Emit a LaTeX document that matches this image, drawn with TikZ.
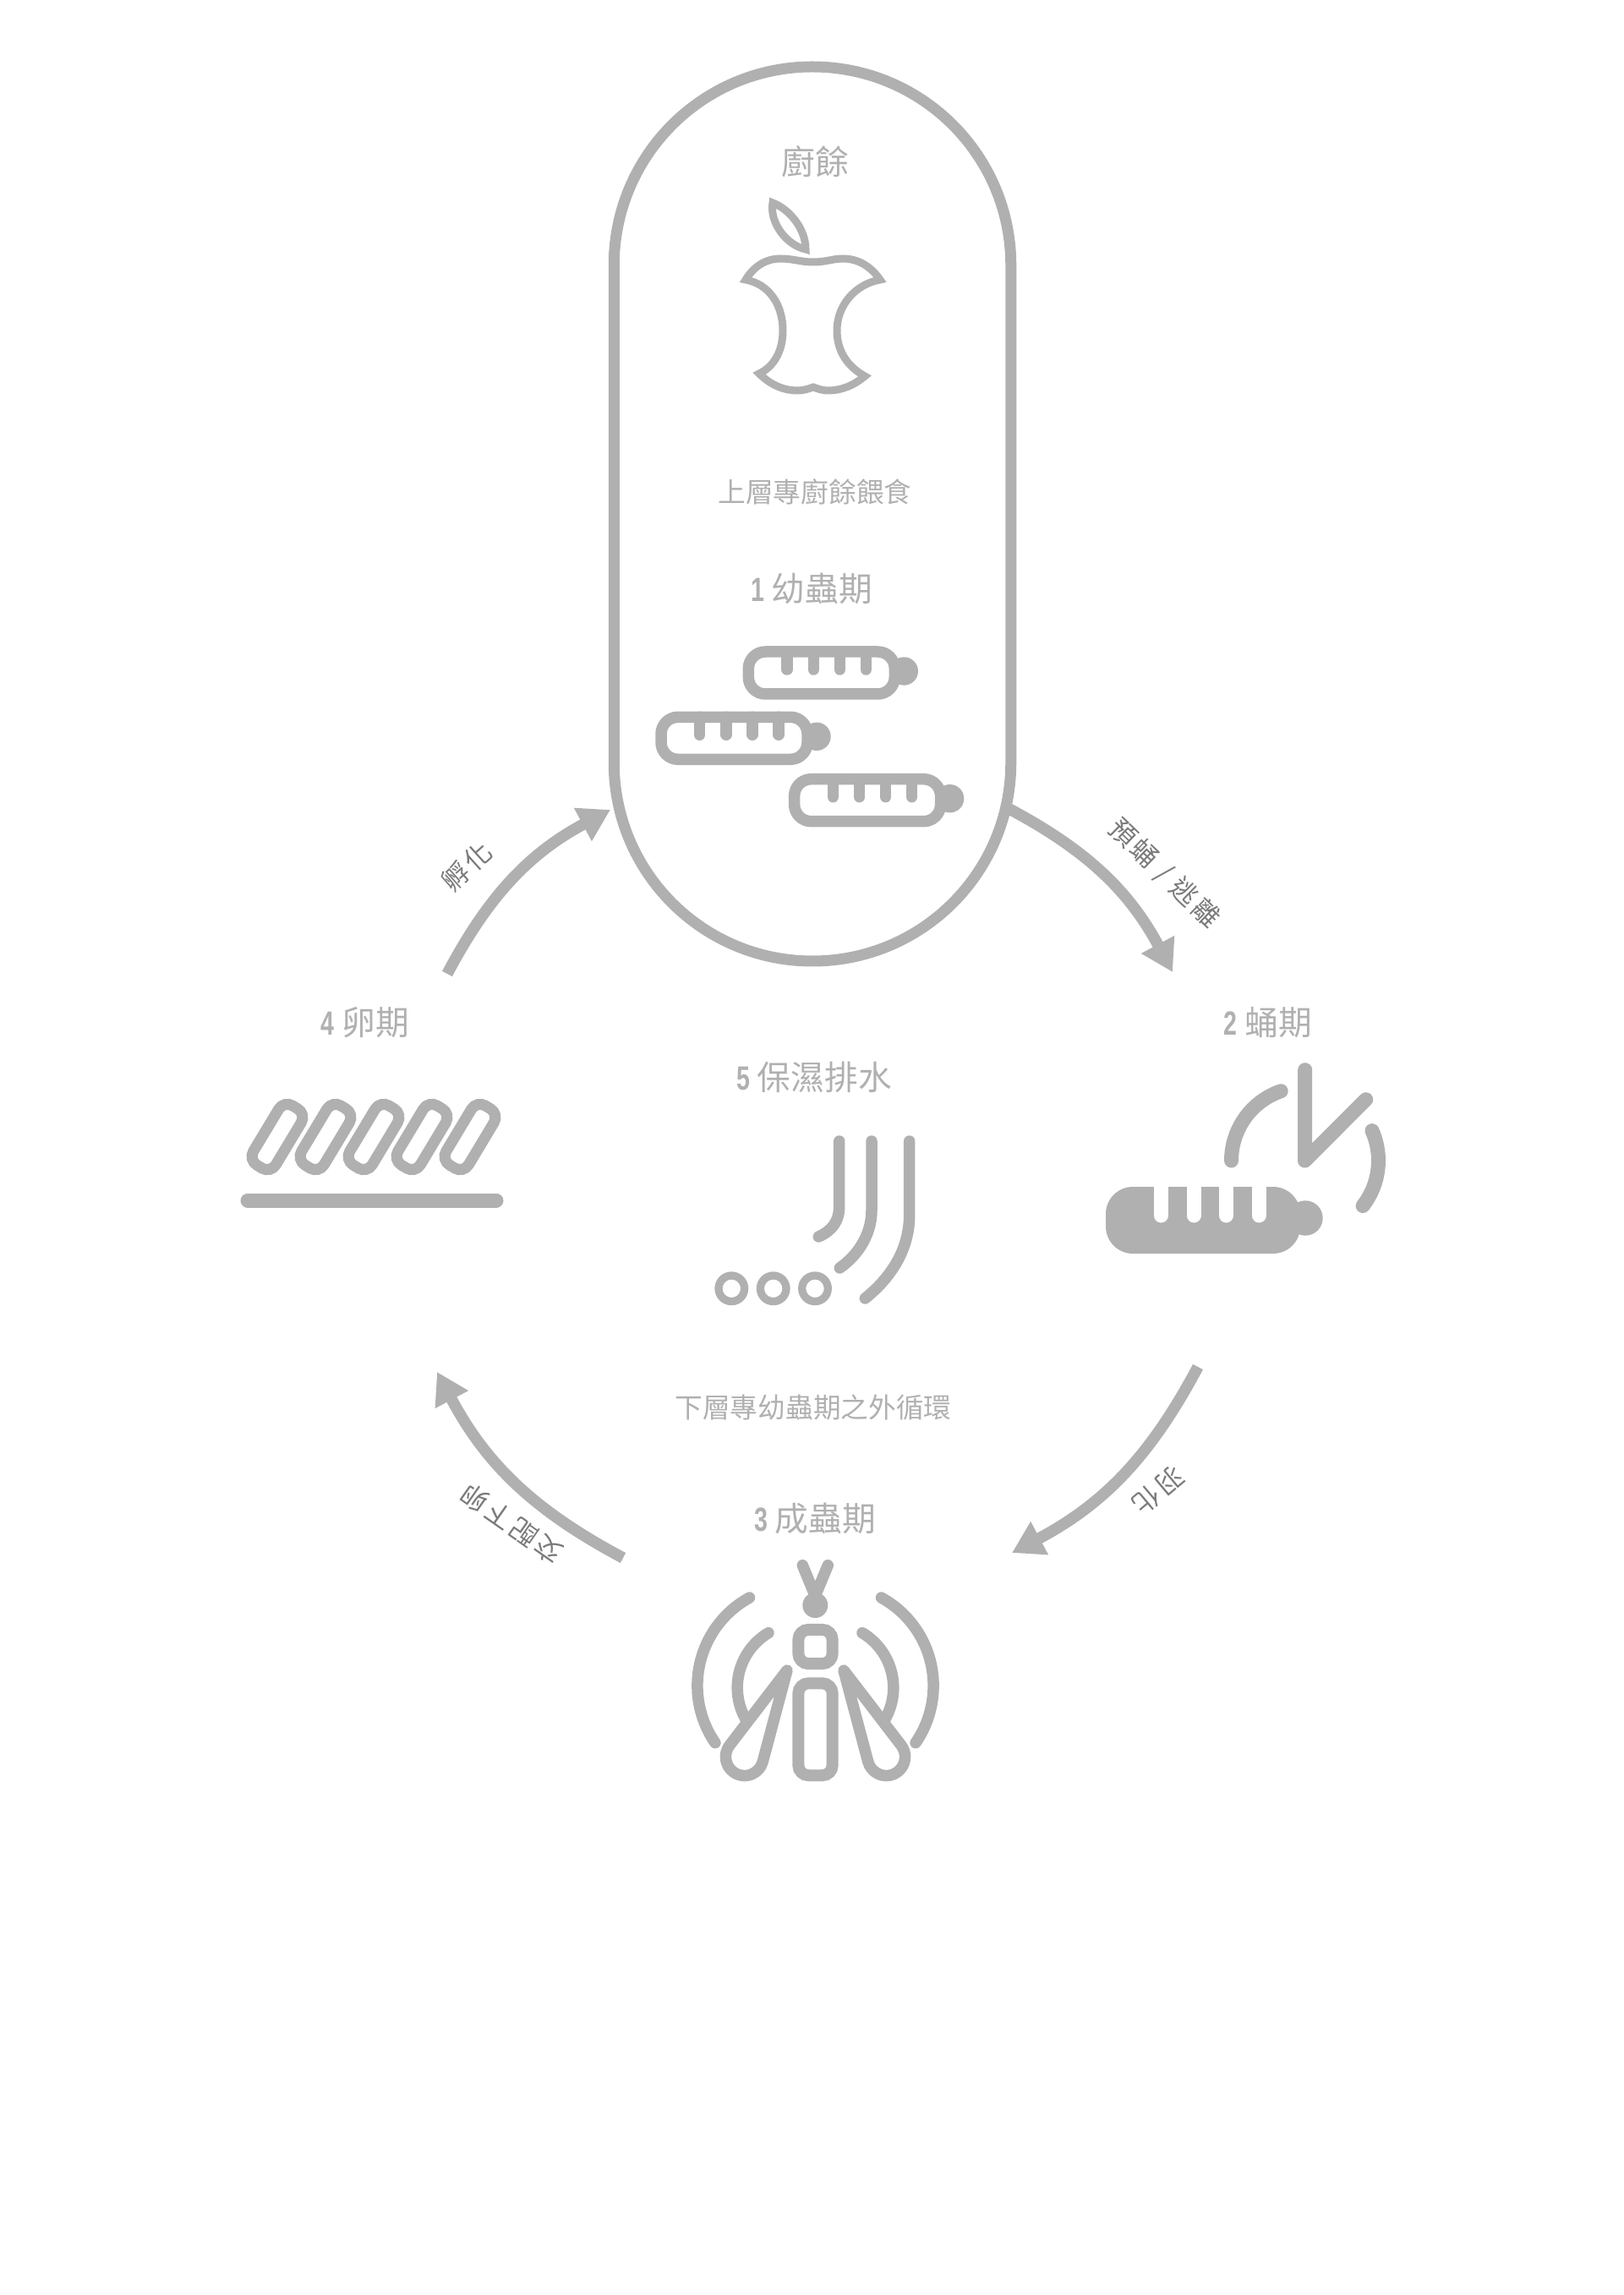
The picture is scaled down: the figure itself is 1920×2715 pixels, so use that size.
\documentclass[tikz,border=0pt]{standalone}
\usepackage{fontspec}
\setmainfont{Noto Sans CJK TC}
\newfontfamily\numfont[FakeStretch=0.72]{Liberation Sans}
\newfontfamily\labfont[LetterSpace=12]{Noto Sans CJK TC}
\usetikzlibrary{arrows.meta, calc}
\definecolor{lgrey}{HTML}{B0B0B0}
\definecolor{dgrey}{HTML}{7A7A7A}
\tikzset{
  stg/.style={text=lgrey, inner sep=0pt, font=\fontsize{11.3pt}{13pt}\selectfont},
  note/.style={text=lgrey, inner sep=0pt, font=\fontsize{9.3pt}{11pt}\selectfont},
  tlab/.style={text=dgrey, inner sep=0pt, font=\labfont\fontsize{9pt}{10pt}\selectfont},
  tra/.style={draw=lgrey, line width=1.35mm, -{Triangle[length=3.7mm, width=4.2mm, fill=lgrey]}, bend left=17},
  ico/.style={draw=lgrey, line width=1.35mm, line cap=round, line join=round},
  thk/.style={draw=lgrey, line width=1.7mm, line cap=round, line join=round},
  eggpill/.style={draw=lgrey, line width=1.3mm, minimum width=3.1mm, minimum height=8.2mm, rounded corners=1.2mm, inner sep=0pt, rotate=-31},
  bodybox/.style={draw=lgrey, line width=1.4mm, minimum width=4.03mm, rounded corners=1.2mm, inner sep=0pt},
  larva/.pic={
    \draw[ico, rounded corners=2mm] (0,0) rectangle (173,50);
    \fill[lgrey] (184,23) circle[radius=1.67mm];
    \foreach \xleg in {45.7,77,108,139}
      \draw[ico] (\xleg,0) -- (\xleg,21);
  }
}
\newcommand{\stagetxt}[2]{{\numfont\bfseries #1}\hspace{2.5pt}#2}

\begin{document}
\begin{tikzpicture}[x=0.1mm, y=-0.1mm]
	\useasboundingbox (0,0) rectangle (1920,2715);
	% container
	\node[draw=lgrey, line width=1.3mm, minimum width=46.95mm, minimum height=105.8mm, rounded corners=23.47mm] (bin) at (961,608) {};
	\node[stg] (food) at (964,191) {廚餘};
	\node[note] (upper) at (964,582) {上層專廚餘餵食};
	\node[stg] (s1) at (960,696) {\stagetxt{1}{幼蟲期}};
	\node[stg] (s2) at (1500,1210) {\stagetxt{2}{蛹期}};
	\node[stg] (s3) at (964,1796) {\stagetxt{3}{成蟲期}};
	\node[stg] (s4) at (432,1210) {\stagetxt{4}{卵期}};
	\node[stg] (s5) at (963,1274) {\stagetxt{5}{保濕排水}};
	\node[note] (lower) at (962,1665) {下層專幼蟲期之外循環};
	% apple
	\draw[draw=lgrey, line width=0.9mm] (882,331) .. controls (893,313) and (908,306) .. (923,306)
		.. controls (938,306) and (947,310) .. (962,310) .. controls (977,310) and (985,306) .. (997,306)
		.. controls (1015,306) and (1030,315) .. (1041,331) .. controls (1012,336) and (990,361) .. (990,391)
		.. controls (990,416) and (1003,434) .. (1023,445) .. controls (1010,456) and (995,462) .. (980,462)
		.. controls (972,462) and (968,460) .. (962,458) .. controls (956,460) and (951,462) .. (943,462)
		.. controls (928,462) and (912,456) .. (898,442) .. controls (915,434) and (926,416) .. (926,391)
		.. controls (926,361) and (910,336) .. (882,331) -- cycle;
	\draw[draw=lgrey, line width=0.9mm] (914,240) .. controls (933,247) and (953,270) .. (953,295)
		.. controls (930,290) and (910,263) .. (914,240) -- cycle;
	% larvae
	\pic (la) at (885.3,771) {larva};
	\pic (lb) at (782,848.3) {larva};
	\pic (lc) at (939.6,921.7) {larva};
	% transitions
	\coordinate (a1) at (1192,956);
	\coordinate (a2) at (1387,1150);
	\coordinate (b1) at (1417,1617);
	\coordinate (b2) at (1197,1837);
	\coordinate (c1) at (737,1843);
	\coordinate (c2) at (517,1623);
	\coordinate (d1) at (529,1152);
	\coordinate (d2) at (722,958);
	\draw[tra] (a1) to (a2);
	\draw[tra] (b1) to (b2);
	\draw[tra] (c1) to (c2);
	\draw[tra] (d1) to (d2);
	\node[tlab, rotate=-44] (tpre) at (1377,1033) {預蛹 / 逃離};
	\node[tlab, rotate=220] (twing) at (1370,1763) {羽化};
	\node[tlab, rotate=145] (tlay) at (605,1803) {交配下卵};
	\node[tlab, rotate=42] (thatch) at (552,1025) {孵化};
	% pupa
	\fill[lgrey, rounded corners=3.2mm] (1308,1404) rectangle (1538,1483);
	\fill[lgrey] (1544,1441) circle[radius=2.07mm];
	\foreach \xslot in {1373.3,1412,1450.3,1489}
		\draw[draw=white, line width=1.7mm, line cap=round] (\xslot,1395) -- (\xslot,1438);
	\coordinate (clock) at (1543.5,1373);
	\draw[thk] (clock) ++(180:8.7mm) arc[start angle=180, end angle=109, radius=8.7mm];
	\draw[thk] (clock) ++(24:8.7mm) arc[start angle=24, end angle=-38, radius=8.7mm];
	\draw[thk] (1543.7,1265.7) -- (clock) -- (1615.7,1300.7);
	% eggs
	\foreach \i in {0,...,4}
		\node[eggpill] (egg\i) at ({328+57*\i},1345) {};
	\draw[thk] (293,1420) -- (587,1420);
	% water
	\draw[ico] (992.7,1350) -- (992.7,1427) .. controls (992.7,1445) and (984,1456) .. (968.3,1463);
	\draw[ico] (1031,1350) -- (1031,1432) .. controls (1031,1460) and (1015,1485) .. (993.3,1500);
	\draw[ico] (1075.7,1350) -- (1075.7,1437) .. controls (1075.7,1480) and (1052,1513) .. (1023.3,1536);
	\foreach \xdrop in {865.3,914.7,964}
		\draw[draw=lgrey, line width=0.93mm] (\xdrop,1524.3) circle[radius=1.53mm];
	% moth
	\draw[ico] (949.3,1851.7) -- (964.3,1888) -- (979.3,1851.7);
	\fill[lgrey] (964.3,1899) circle[radius=1.5mm];
	\node[bodybox, minimum height=4.03mm] (thorax) at (964.5,1948) {};
	\node[bodybox, minimum height=10.9mm] (abdomen) at (964.5,2045.8) {};
	\coordinate (wl) at (880.7,2078.3);
	\coordinate (wr) at (1048.3,2078.3);
	\draw[ico] (931,1976) -- ($(wl)+(142.6:2.23mm)$) arc[start angle=142.6, end angle=345.2, radius=2.23mm] -- cycle;
	\draw[ico] (998,1976) -- ($(wr)+(37.4:2.23mm)$) arc[start angle=37.4, end angle=-165.2, radius=2.23mm] -- cycle;
	\coordinate (il) at (947.7,1996.5);
	\coordinate (ir) at (981.3,1996.5);
	\coordinate (ol) at (943.8,1994.2);
	\coordinate (or) at (985.2,1994.2);
	\draw[ico] (il) ++(120.8:7.55mm) arc[start angle=120.8, end angle=210, radius=7.55mm];
	\draw[ico] (ir) ++(59.2:7.55mm) arc[start angle=59.2, end angle=-30, radius=7.55mm];
	\draw[ico] (ol) ++(118.8:11.89mm) arc[start angle=118.8, end angle=214.6, radius=11.89mm];
	\draw[ico] (or) ++(61.2:11.89mm) arc[start angle=61.2, end angle=-34.6, radius=11.89mm];
\end{tikzpicture}
\end{document}
